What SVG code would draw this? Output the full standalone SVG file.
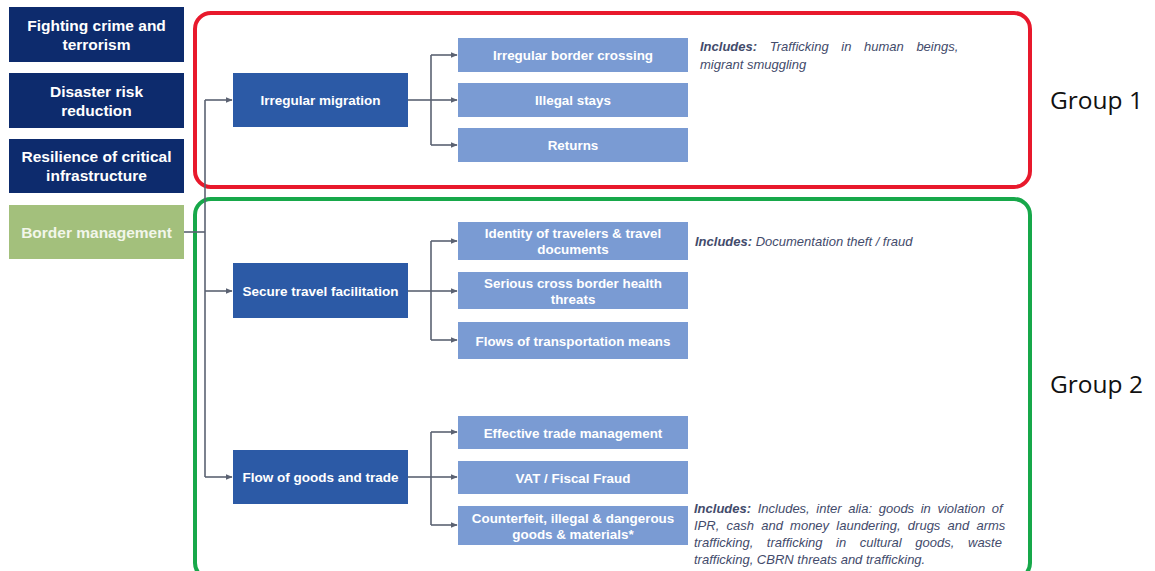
<svg xmlns="http://www.w3.org/2000/svg" width="1155" height="571" viewBox="0 0 1155 571">
<defs>
<marker id="ah" viewBox="0 0 10 10" refX="9" refY="5" markerWidth="7" markerHeight="7" orient="auto" markerUnits="userSpaceOnUse"><path d="M0,1 L10,5 L0,9 Z" fill="#5b6272"/></marker>
<style>
.dark{fill:#0d2b6d}
.green{fill:#a3c07c}
.mid{fill:#2c5aa6}
.light{fill:#7a9bd3}
.t{font-family:"Liberation Sans",Arial,sans-serif;font-weight:bold;fill:#ffffff;text-anchor:middle}
.tl{font-size:15.5px}
.tm{font-size:13.5px}
.ts{font-size:13.4px}
.inc{font-family:"Liberation Sans",Arial,sans-serif;font-style:italic;font-size:13px;fill:#434b6b}
.b{font-weight:bold}
.grp{font-family:"Open Sans","Noto Sans",sans-serif;font-size:24.5px;fill:#111111}
.c{fill:none;stroke:#5b6272;stroke-width:1.6}
.ca{fill:none;stroke:#5b6272;stroke-width:1.6;marker-end:url(#ah)}
</style>
</defs>
<rect width="1155" height="571" fill="#ffffff"/>
<g id="group-frames">
<rect x="195" y="13" width="835" height="174" rx="16" fill="none" stroke="#e8192c" stroke-width="4"/>
<rect x="195" y="199" width="835" height="380" rx="16" fill="none" stroke="#17a84a" stroke-width="4"/>
</g>
<g id="connectors">
<polyline class="c" points="184,232 205,232"/>
<polyline class="c" points="205,100 205,477"/>
<polyline class="ca" points="205,100 232,100"/>
<polyline class="ca" points="205,291 232,291"/>
<polyline class="ca" points="205,477 232,477"/>
<polyline class="c" points="408,100 431,100"/>
<polyline class="c" points="431,55 431,145"/>
<polyline class="ca" points="431,55 457,55"/>
<polyline class="ca" points="431,100 457,100"/>
<polyline class="ca" points="431,145 457,145"/>
<polyline class="c" points="408,291 431,291"/>
<polyline class="c" points="431,241 431,340"/>
<polyline class="ca" points="431,241 457,241"/>
<polyline class="ca" points="431,291 457,291"/>
<polyline class="ca" points="431,340 457,340"/>
<polyline class="c" points="408,477 431,477"/>
<polyline class="c" points="431,432 431,525"/>
<polyline class="ca" points="431,432 457,432"/>
<polyline class="ca" points="431,477 457,477"/>
<polyline class="ca" points="431,525 457,525"/>
</g>
<g id="n-fighting"><rect class="dark" x="9" y="7" width="175" height="55"/><text class="t tl" x="96.5" y="31">Fighting crime and</text><text class="t tl" x="96.5" y="50">terrorism</text></g>
<g id="n-disaster"><rect class="dark" x="9" y="73" width="175" height="55"/><text class="t tl" x="96.5" y="97">Disaster risk</text><text class="t tl" x="96.5" y="116">reduction</text></g>
<g id="n-resilience"><rect class="dark" x="9" y="139" width="175" height="54"/><text class="t tl" x="96.5" y="162">Resilience of critical</text><text class="t tl" x="96.5" y="181">infrastructure</text></g>
<g id="n-border"><rect class="green" x="9" y="205" width="175" height="54"/><text class="t tl" x="96.5" y="237.5" style="fill:#f2f6ea">Border management</text></g>
<g id="n-irregular"><rect class="mid" x="233" y="73" width="175" height="54"/><text class="t tm" x="320.5" y="105">Irregular migration</text></g>
<g id="n-secure"><rect class="mid" x="233" y="263" width="175" height="55"/><text class="t tm" x="320.5" y="296">Secure travel facilitation</text></g>
<g id="n-flow"><rect class="mid" x="233" y="450" width="175" height="54"/><text class="t tm" x="320.5" y="482">Flow of goods and trade</text></g>
<g id="n-ibc"><rect class="light" x="458" y="38" width="230" height="34"/><text class="t ts" x="573" y="60">Irregular border crossing</text></g>
<g id="n-stays"><rect class="light" x="458" y="83" width="230" height="34"/><text class="t ts" x="573" y="105">Illegal stays</text></g>
<g id="n-returns"><rect class="light" x="458" y="128" width="230" height="34"/><text class="t ts" x="573" y="150">Returns</text></g>
<g id="n-identity"><rect class="light" x="458" y="222" width="230" height="38"/><text class="t ts" x="573" y="238">Identity of travelers &amp; travel</text><text class="t ts" x="573" y="254">documents</text></g>
<g id="n-health"><rect class="light" x="458" y="272" width="230" height="37"/><text class="t ts" x="573" y="288">Serious cross border health</text><text class="t ts" x="573" y="304">threats</text></g>
<g id="n-transport"><rect class="light" x="458" y="322" width="230" height="37"/><text class="t ts" x="573" y="345.5">Flows of transportation means</text></g>
<g id="n-effective"><rect class="light" x="458" y="416" width="230" height="33"/><text class="t ts" x="573" y="437.5">Effective trade management</text></g>
<g id="n-vat"><rect class="light" x="458" y="461" width="230" height="33"/><text class="t ts" x="573" y="482.5">VAT / Fiscal Fraud</text></g>
<g id="n-counterfeit"><rect class="light" x="458" y="506" width="230" height="39"/><text class="t ts" x="573" y="522.5">Counterfeit, illegal &amp; dangerous</text><text class="t ts" x="573" y="539">goods &amp; materials*</text></g>
<g id="notes">
<text class="inc" x="700" y="51" word-spacing="9"><tspan class="b">Includes:</tspan> Trafficking in human beings,</text>
<text class="inc" x="700" y="69">migrant smuggling</text>
<text class="inc" x="695" y="246"><tspan class="b">Includes:</tspan> Documentation theft / fraud</text>
<text class="inc" x="694" y="513" word-spacing="3"><tspan class="b">Includes:</tspan> Includes, inter alia: goods in violation of</text>
<text class="inc" x="694" y="530" word-spacing="3.6">IPR, cash and money laundering, drugs and arms</text>
<text class="inc" x="694" y="547" word-spacing="10">trafficking, trafficking in cultural goods, waste</text>
<text class="inc" x="694" y="564">trafficking, CBRN threats and trafficking.</text>
</g>
<g id="group-labels">
<text class="grp" x="1050" y="109">Group 1</text>
<text class="grp" x="1050" y="393">Group 2</text>
</g>
</svg>
